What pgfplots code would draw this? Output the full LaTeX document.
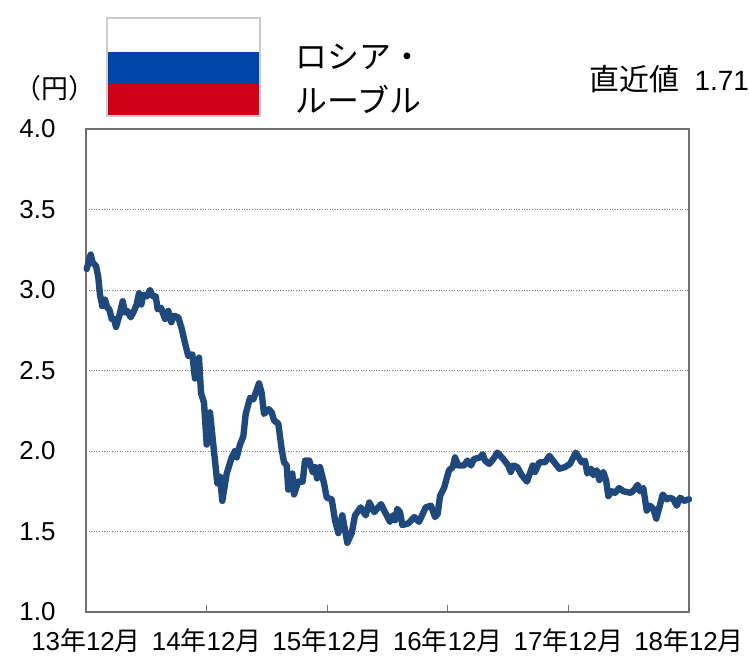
\documentclass[border=0pt]{standalone}
\usepackage{pgfplots}
\pgfplotsset{compat=1.18}
\usepackage{fontspec}
\setmainfont{Liberation Sans}
\newfontfamily\cjk{Noto Sans CJK JP}
\definecolor{ln}{HTML}{1F497D}
\definecolor{fr}{HTML}{6F6F6F}
\newcommand{\xl}[1]{#1{\cjk 年}12{\cjk 月}}
\begin{document}
\begin{tikzpicture}[x=1bp,y=1bp]
\path[use as bounding box] (0,0) rectangle (749,658);
\begin{axis}[
  at={(86bp,46bp)},anchor=south west,
  width=603bp,height=483bp,scale only axis,
  xmin=0,xmax=603,ymin=1,ymax=4,
  axis line style={draw=fr,line width=2bp},
  xtick={0,120.6,241.2,361.8,482.4,603},
  xticklabels={\xl{13},\xl{14},\xl{15},\xl{16},\xl{17},\xl{18}},
  ytick={1,1.5,2,2.5,3,3.5,4},
  /pgf/number format/assume math mode=true,
  /pgf/number format/fixed,/pgf/number format/fixed zerofill,/pgf/number format/precision=1,
  tick label style={font=\fontsize{26}{30}\selectfont},
  yticklabel style={xshift=-27bp},
  xticklabel style={yshift=-13.5bp},
  xtick pos=bottom,
  xtick align=inside,
  major tick length=7bp,
  tick style={draw=fr,line width=1bp},
  ytick style={draw=none},
  ymajorgrids,
  grid style={draw=black!50,line width=0.6bp,dotted},
  clip=false,
]
\addplot[ln,line width=6.4bp,line join=round,line cap=round] coordinates {
(0.7,3.13)(4.7,3.22)(6.7,3.17)(10,3.15)(12.3,3.08)(14,2.97)(16.3,2.90)(19,2.94)(21.3,2.89)(23.3,2.88)(25.7,2.82)(28,2.82)(30,2.77)(33.3,2.84)(36.7,2.93)(39,2.86)(41.3,2.87)(44.7,2.83)(48,2.87)(50.7,2.91)(53,2.98)(55.3,2.91)(57.3,2.97)(60.7,2.96)(64,3.00)(66.7,2.96)(69.7,2.96)(71.7,2.88)(75,2.89)(79,2.82)(82.3,2.87)(85.3,2.80)(88,2.84)(92.3,2.83)(95.7,2.76)(99,2.67)(102.3,2.59)(106.3,2.60)(109,2.45)(113,2.58)(115,2.36)(118,2.30)(120.7,2.04)(124,2.24)(127.3,2.04)(131.3,1.80)(134,1.84)(136.3,1.69)(140.7,1.86)(145.7,1.96)(149,2.00)(150.7,1.96)(154,2.04)(157.3,2.09)(159.7,2.23)(164,2.33)(167.3,2.32)(173,2.42)(175.7,2.36)(178,2.23)(182.7,2.26)(185.7,2.24)(188,2.19)(192.3,2.17)(195.7,2.01)(198,1.93)(200.7,1.91)(202.3,1.76)(206.3,1.86)(208,1.73)(212.3,1.81)(216.7,1.81)(219,1.94)(223.3,1.94)(226.7,1.87)(229,1.90)(231,1.83)(234,1.90)(238,1.80)(240.7,1.71)(245.7,1.70)(249,1.57)(252.3,1.49)(256.3,1.60)(261.3,1.43)(265.7,1.49)(269,1.60)(274.7,1.65)(279.7,1.60)(283.3,1.68)(288.3,1.62)(295,1.67)(299,1.62)(304,1.56)(306.7,1.60)(309,1.57)(311.3,1.64)(314,1.62)(316.3,1.54)(322.3,1.55)(328.3,1.59)(333,1.56)(339.7,1.65)(345,1.66)(349,1.59)(351.7,1.61)(354,1.72)(358,1.77)(363,1.88)(366.7,1.90)(369,1.96)(372.3,1.91)(378,1.91)(381.3,1.94)(385,1.91)(388,1.95)(394,1.96)(396.7,1.98)(399,1.94)(403.3,1.92)(407.3,1.95)(411.3,1.99)(417.3,1.95)(422.3,1.91)(424.7,1.87)(427.3,1.91)(431.3,1.90)(435.7,1.85)(441,1.81)(446.7,1.91)(449,1.87)(453.3,1.93)(459,1.93)(463.3,1.97)(473.3,1.89)(479,1.90)(484,1.92)(489.7,1.99)(495.7,1.93)(499,1.94)(501.3,1.86)(505,1.89)(507.3,1.85)(510.7,1.88)(513.3,1.82)(517.3,1.87)(520,1.82)(522.3,1.72)(525.7,1.75)(529,1.74)(533,1.77)(537.3,1.75)(544.7,1.74)(548.3,1.76)(551.7,1.79)(554,1.75)(557.3,1.77)(560.7,1.63)(564,1.66)(567.3,1.64)(570.3,1.58)(573.3,1.65)(576.7,1.73)(580.7,1.70)(584,1.71)(587.3,1.70)(590.7,1.66)(594,1.71)(598,1.69)(603,1.70)
};
\end{axis}
% flag
\fill[white] (107,606) rectangle (260,640);
\fill[fill={rgb,255:red,0;green,70;blue,170}] (107,574) rectangle (260,606);
\fill[fill={rgb,255:red,208;green,0;blue,24}] (107,542) rectangle (260,574);
\draw[black!20,line width=1.2bp] (107,542) rectangle (260,640);
\node[anchor=center,font=\cjk\fontsize{27}{30}\selectfont] at (55,570) {（円）};
\node[anchor=west,font=\cjk\fontsize{32}{36}\selectfont] at (292,601) {ロシア・};
\node[anchor=west,font=\cjk\fontsize{32}{36}\selectfont] at (292,559) {ルーブル};
\node[anchor=east,inner sep=0pt,font=\fontsize{28}{30}\selectfont] at (749,579) {{\cjk\fontsize{30}{32}\selectfont 直近値}\hspace{15bp}1.71};
\end{tikzpicture}
\end{document}
